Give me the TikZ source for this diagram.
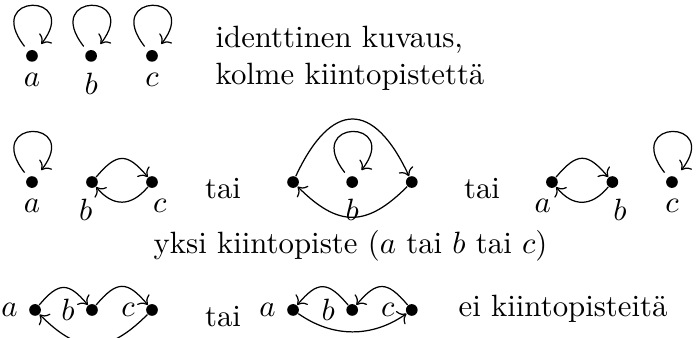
\documentclass[tikz,border=0pt]{standalone}
\usepackage{tikz}
\usetikzlibrary{arrows.meta, positioning}
\tikzstyle{piste} = [circle, fill=black, inner sep=0pt, minimum size=3.8pt]
\tikzstyle{nuoli} = [->]
\tikzstyle{silmukka} = [->, out=128, in=52, distance=0.85cm, shorten <=1.8pt, shorten >=2.8pt]
\tikzstyle{lyhyt} = [->, bend left=50, looseness=1.6]
\tikzstyle{teksti} = [inner sep=0pt]

\begin{document}
\begin{tikzpicture}
\useasboundingbox (0,0) rectangle (7.99,3.858);

% Identtinen kuvaus
\node (a1) [piste, label=below:$a$] at (0.365,3.22) {};
\node (b1) [piste, label=below:$b$] at (1.04,3.22) {};
\node (c1) [piste, label=below:$c$] at (1.735,3.22) {};
\draw [silmukka] (a1) to (a1);
\draw [silmukka] (b1) to (b1);
\draw [silmukka] (c1) to (c1);
\node (id) [teksti, align=left, anchor=north west] at (2.454,3.566) {identtinen kuvaus,\\kolme kiintopistettä};

% Yksi kiintopiste
\node (a2) [piste, label=below:$a$] at (0.365,1.78) {};
\node (b2) [piste, label={[xshift=-2pt]below:$b$}] at (1.05,1.78) {};
\node (c2) [piste, label={[xshift=2.5pt]below:$c$}] at (1.735,1.78) {};
\draw [silmukka] (a2) to (a2);
\draw [lyhyt] (b2) to (c2);
\draw [->, bend left=50, looseness=1.3] (c2) to (b2);
\node (tai1) [teksti, anchor=base] at (2.546,1.587) {tai};

\node (a3) [piste] at (3.345,1.78) {};
\node (b3) [piste, label=below:$b$] at (4.02,1.78) {};
\node (c3) [piste] at (4.70,1.78) {};
\draw [silmukka] (b3) to (b3);
\draw [->, bend left=65, looseness=1.9] (a3) to (c3);
\draw [->, bend left=45, looseness=1.35] (c3) to (a3);
\node (tai2) [teksti, anchor=base] at (5.502,1.587) {tai};

\node (a4) [piste, label={[xshift=-3pt]below:$a$}] at (6.30,1.78) {};
\node (b4) [piste, label={[xshift=2.5pt]below:$b$}] at (6.99,1.78) {};
\node (c4) [piste, label=below:$c$] at (7.67,1.78) {};
\draw [lyhyt] (a4) to (b4);
\draw [->, bend left=50, looseness=1.3] (b4) to (a4);
\draw [silmukka] (c4) to (c4);
\node (yksi) [teksti, anchor=base] at (4.001,0.970) {yksi kiintopiste ($a$ tai $b$ tai $c$)};

% Ei kiintopisteita
\node (a5) [piste, label=left:$a$] at (0.40,0.32) {};
\node (b5) [piste, label=left:$b$] at (1.05,0.32) {};
\node (c5) [piste, label=left:$c$] at (1.735,0.32) {};
\draw [lyhyt] (a5) to (b5);
\draw [lyhyt] (b5) to (c5);
\draw [->, bend left=45, looseness=1.35] (c5) to (a5);
\node (tai3) [teksti, anchor=base] at (2.546,0.126) {tai};

\node (a6) [piste, label=left:$a$] at (3.345,0.32) {};
\node (b6) [piste, label=left:$b$] at (4.02,0.32) {};
\node (c6) [piste, label=left:$c$] at (4.70,0.32) {};
\draw [->, bend right=50, looseness=1.6] (b6) to (a6);
\draw [->, bend right=50, looseness=1.6] (c6) to (b6);
\draw [->, bend right=35, looseness=1] (a6) to (c6);
\node (ei) [teksti, anchor=base] at (6.427,0.240) {ei kiintopisteitä};

\end{tikzpicture}
\end{document}
